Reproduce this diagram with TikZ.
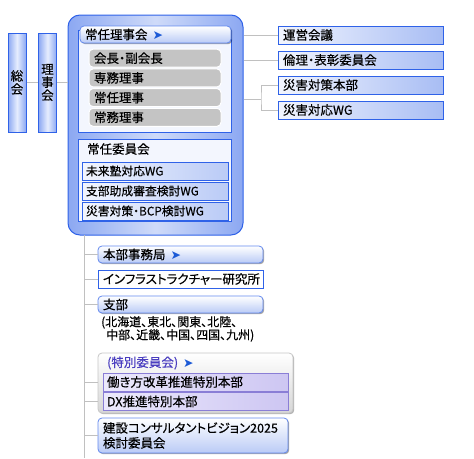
\documentclass[tikz,border=0pt]{standalone}
\usepackage{fontspec}
\setmainfont{Noto Sans CJK JP}[RawFeature=+palt, FakeBold=0.4]
\newfontfamily\arrowfont{DejaVu Sans}
\usetikzlibrary{positioning, shadows}

\definecolor{edgeblue}{HTML}{2F62E8}
\definecolor{barblue}{HTML}{8CA8F2}
\definecolor{barlight}{HTML}{E6EDFE}
\definecolor{boxblue}{HTML}{A8BDF4}
\definecolor{boxlight}{HTML}{F2F5FE}
\definecolor{headblue}{HTML}{BACBF6}
\definecolor{framefill}{HTML}{F3F6FE}
\definecolor{pillgray}{HTML}{C4C4C4}
\definecolor{linegray}{HTML}{C0C0C0}
\definecolor{arrowblue}{HTML}{1C5AD6}
\definecolor{tokuedge}{HTML}{8A7ED6}
\definecolor{tokufill}{HTML}{CDC6F2}
\definecolor{tokulight}{HTML}{ECE9FC}
\definecolor{tokutext}{HTML}{4A3EC0}

\newcommand{\navarrow}{\hspace{5pt}{\arrowfont\fontsize{12.5}{12}\selectfont\textcolor{arrowblue}{➤}}}
\newcommand{\boxfont}{\fontsize{12.5}{15}\selectfont}

\begin{document}
\begin{tikzpicture}[
                    x=1pt, y=-1pt,
                    conn/.style={draw=linegray, line width=0.9pt},
                    bar/.style={draw=edgeblue, line width=1pt, left color=barblue, right color=barblue, middle color=barlight, minimum width=18pt, minimum height=99pt, inner sep=0pt, align=center, font=\fontsize{12.5}{13}\selectfont},
                    bigbox/.style={draw=edgeblue, line width=1pt, rounded corners=12pt, left color=barblue, right color=barblue, middle color=headblue!70, minimum width=175pt, minimum height=220pt},
                    grpframe/.style={draw=edgeblue, line width=1pt, fill=framefill, inner sep=0pt},
                    hdbox/.style={draw=edgeblue!75, line width=0.8pt, rounded corners=4pt, top color=white, bottom color=headblue, drop shadow={shadow xshift=1.2pt, shadow yshift=-1.2pt, fill=black, opacity=0.35}, minimum height=17pt, inner ysep=0pt, inner xsep=5pt, text width=155pt, align=left, font=\boxfont},
                    pill/.style={draw=white, line width=1pt, rounded corners=4pt, fill=pillgray, minimum height=18pt, inner ysep=0pt, inner xsep=5pt, text width=122pt, align=left, font=\boxfont},
                    wg/.style={draw=edgeblue, line width=1pt, left color=boxlight, right color=headblue, minimum height=18pt, inner ysep=0pt, inner xsep=4pt, text width=138pt, align=left, font=\fontsize{11.8}{14}\selectfont},
                    rbox/.style={draw=edgeblue, line width=1pt, left color=boxlight, right color=boxblue, minimum height=18pt, inner ysep=0pt, inner xsep=5pt, text width=155pt, align=left, font=\boxfont},
                    ibox/.style={draw=edgeblue, line width=1pt, fill=white, minimum height=18pt, inner ysep=0pt, inner xsep=5pt, text width=155pt, align=left, font=\boxfont},
                    tokuframe/.style={draw=gray!45, line width=0.8pt, rounded corners=4pt, top color=white, bottom color=gray!32, drop shadow={shadow xshift=1.2pt, shadow yshift=-1.2pt, fill=black, opacity=0.3}, minimum width=195pt, minimum height=60pt},
                    toku/.style={draw=tokuedge, line width=1pt, left color=tokulight, right color=tokufill, minimum height=18pt, inner ysep=0pt, inner xsep=4pt, text width=177pt, align=left, font=\boxfont}
                ]
                \useasboundingbox (0,0) rectangle (474,458);

                % left bars
                \node[bar] (soukai) at (17,82.5) {総\\会};
                \node[bar] (rijikai) at (47.5,82.5) {理\\事\\会};

                % board block
                \node[bigbox] (jonin) at (155.5,125) {};
                \node[grpframe, minimum width=153pt, minimum height=102pt] (rijiframe) at (154.5,81) {};
                \node[hdbox, minimum width=151pt, text width=141pt] (jrijikai) at (155.5,34.5) {常任理事会\navarrow};
                \foreach \t [count=\i] in {会長・副会長, 専務理事, 常任理事, 常務理事}{
                        \node[pill] (yaku\i) at (155,38.5+19.7*\i) {\t};
                    }
                \node[grpframe, minimum width=153pt, minimum height=82pt] (iinframe) at (154.5,180) {};
                \node[anchor=west, font=\boxfont, inner sep=3pt] (jiinkai) at (84,149) {常任委員会};
                \foreach \t [count=\i] in {未来塾対応WG, 支部助成審査検討WG, 災害対策・BCP検討WG}{
                        \node[wg] (wg\i) at (155,151+20*\i) {\t};
                    }

                % right column
                \foreach \n/\t [count=\i] in {unei/運営会議, rinri/倫理・表彰委員会, taisaku/災害対策本部, taiwg/災害対応WG}{
                        \node[rbox] (\n) at (360.5,10+25*\i) {\t};
                    }
                \coordinate (brk) at (261,99);

                \draw[conn] (soukai.east) -- (rijikai.west);
                \draw[conn] (rijikai.east) -- (rijikai.east -| jonin.west);
                \draw[conn] (unei.west) -- (unei.west -| jonin.east);
                \draw[conn] (rinri.west) -- (rinri.west -| jonin.east);
                \draw[conn] (brk -| jonin.east) -- (brk);
                \draw[conn] (taisaku.west) -| (brk) |- (taiwg.west);

                % lower column
                \coordinate (trk) at (84,235);
                \coordinate (trkend) at (84,458);
                \draw[conn] (trk) -- (trkend);

                \node[hdbox] (honbu) at (180.5,254.5) {本部事務局\navarrow};
                \node[ibox] (infra) at (180.5,279) {インフラストラクチャー研究所};
                \node[hdbox] (shibu) at (180.5,304.5) {支部};
                \node[anchor=north west, align=left, font=\fontsize{12}{13}\selectfont, inner sep=0pt] (shibulist) at (101,316) {(北海道、東北、関東、北陸、\\\hspace*{5pt}中部、近畿、中国、四国、九州)};

                \node[tokuframe] (tokubetsu) at (195.5,383) {};
                \node[anchor=west, font=\boxfont, text=tokutext, inner sep=3pt] (tokutitle) at (104,363) {(特別委員会)\navarrow};
                \node[toku] (hataraki) at (195.5,382) {働き方改革推進特別本部};
                \node[toku] (dx) at (195.5,401.5) {DX推進特別本部};

                \node[hdbox, minimum width=190pt, text width=180pt, minimum height=35pt] (vision) at (193,435.5) {建設コンサルタントビジョン2025\\検討委員会};

                \foreach \n in {honbu, infra, shibu, vision}{
                        \draw[conn] (\n.west -| trk) -- (\n.west);
                    }
                \foreach \n in {hataraki, dx}{
                        \draw[conn] (\n.west -| trk) -- (\n.west -| tokubetsu.west);
                    }
            \end{tikzpicture}
\end{document}
